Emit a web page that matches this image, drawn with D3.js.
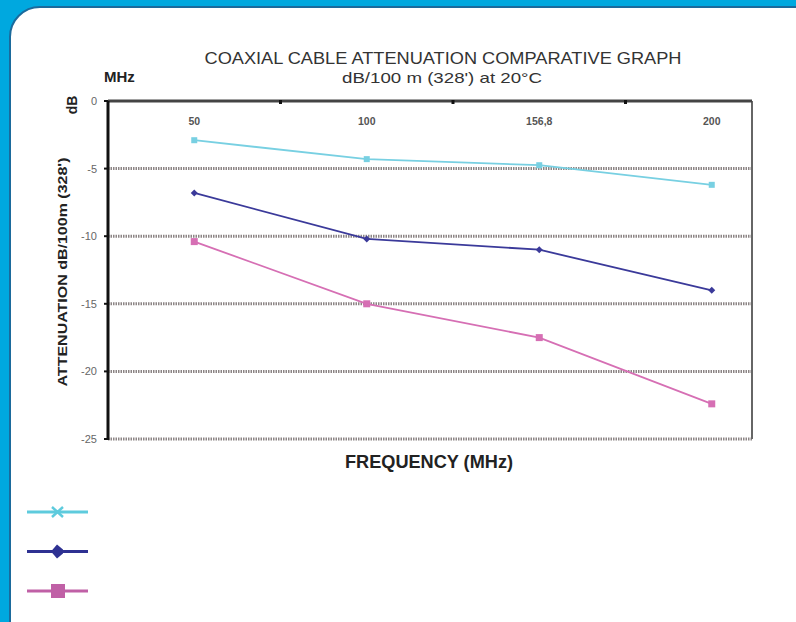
<!DOCTYPE html>
<html>
<head>
<meta charset="utf-8">
<script src="https://cdn.jsdelivr.net/npm/d3@7"></script>
<style>
  body { margin: 0; background: #00a8df; }
  svg { display: block; font-family: "Liberation Sans", Arial, sans-serif; }
</style>
</head>
<body>
<div id="chart"></div>
<script>
// Data
var categories = ["50", "100", "156,8", "200"];
var cyanValues = [-2.9, -4.3, -4.75, -6.2];
var navyValues = [-6.8, -10.2, -11.0, -14.0];
var magentaValues = [-10.4, -15.0, -17.5, -22.4];
var yTicks = [0, -5, -10, -15, -20, -25];

var series = [
  { name: "cyan", values: cyanValues, color: "#78d0e2", legendColor: "#5ecbdd", marker: "x" },
  { name: "navy", values: navyValues, color: "#3b3a9a", legendColor: "#2e3192", marker: "diamond" },
  { name: "magenta", values: magentaValues, color: "#d66fb4", legendColor: "#c060a6", marker: "square" }
];

var W = 796, H = 622;
var svg = d3.select("#chart").append("svg")
  .attr("width", W).attr("height", H);

// background panel
svg.append("rect").attr("width", W).attr("height", H).attr("fill", "#00a8df");
svg.append("rect")
  .attr("x", 10).attr("y", 7)
  .attr("width", 830).attr("height", 660)
  .attr("rx", 30).attr("ry", 30)
  .attr("fill", "#ffffff")
  .attr("stroke", "#1b6a9c").attr("stroke-width", 2);

// plot area
var plot = { left: 108, top: 101, right: 752, bottom: 439 };

var x = d3.scaleBand()
  .domain(categories)
  .range([plot.left, plot.left + 4 * 172.5]);

var y = d3.scaleLinear()
  .domain([0, -25])
  .range([plot.top, plot.bottom]);

// gridlines
svg.append("g").selectAll("line")
  .data(yTicks.filter(function(d){ return d !== 0; }))
  .enter().append("line")
  .attr("x1", plot.left).attr("x2", plot.right)
  .attr("y1", function(d){ return y(d); })
  .attr("y2", function(d){ return y(d); })
  .attr("stroke", "#8c8585")
  .attr("stroke-width", 3)
  .attr("stroke-dasharray", "1.5,1");

// right border
svg.append("line")
  .attr("x1", plot.right).attr("x2", plot.right)
  .attr("y1", plot.top).attr("y2", plot.bottom)
  .attr("stroke", "#666").attr("stroke-width", 2);

// top axis line
svg.append("line")
  .attr("x1", plot.left).attr("x2", plot.right)
  .attr("y1", plot.top).attr("y2", plot.top)
  .attr("stroke", "#444").attr("stroke-width", 3);

// top ticks between categories
svg.append("g").selectAll("line")
  .data(categories.slice(1))
  .enter().append("line")
  .attr("x1", function(d){ return x(d); })
  .attr("x2", function(d){ return x(d); })
  .attr("y1", plot.top - 1).attr("y2", plot.top + 3)
  .attr("stroke", "#111").attr("stroke-width", 3);

// left axis
svg.append("line")
  .attr("x1", plot.left).attr("x2", plot.left)
  .attr("y1", plot.top).attr("y2", plot.bottom + 1)
  .attr("stroke", "#111").attr("stroke-width", 3);

svg.append("g").selectAll("line")
  .data(yTicks)
  .enter().append("line")
  .attr("x1", plot.left - 4).attr("x2", plot.left)
  .attr("y1", function(d){ return y(d); })
  .attr("y2", function(d){ return y(d); })
  .attr("stroke", "#111").attr("stroke-width", 2);

// y tick labels
svg.append("g").selectAll("text")
  .data(yTicks)
  .enter().append("text")
  .attr("x", 97)
  .attr("y", function(d){ return y(d) + 4; })
  .attr("text-anchor", "end")
  .attr("font-size", 11)
  .attr("fill", "#666")
  .text(function(d){ return d; });

// category labels inside plot
svg.append("g").selectAll("text")
  .data(categories)
  .enter().append("text")
  .attr("x", function(d){ return x(d) + x.bandwidth() / 2; })
  .attr("y", 125)
  .attr("text-anchor", "middle")
  .attr("font-size", 10.5)
  .attr("font-weight", "bold")
  .attr("fill", "#555")
  .text(function(d){ return d; });

// lines and markers
var line = d3.line()
  .x(function(d, i){ return x(categories[i]) + x.bandwidth() / 2; })
  .y(function(d){ return y(d); });

series.forEach(function(s) {
  svg.append("path")
    .datum(s.values)
    .attr("d", line)
    .attr("fill", "none")
    .attr("stroke", s.color)
    .attr("stroke-width", 1.8);

  var pts = svg.append("g").selectAll("g")
    .data(s.values)
    .enter().append("g")
    .attr("transform", function(d, i){
      return "translate(" + (x(categories[i]) + x.bandwidth() / 2) + "," + y(d) + ")";
    });
  if (s.marker === "square") {
    pts.append("rect").attr("x", -3.5).attr("y", -3.5)
      .attr("width", 7).attr("height", 7).attr("fill", s.color);
  } else if (s.marker === "diamond") {
    pts.append("path").attr("d", "M0,-3.5L3.5,0L0,3.5L-3.5,0Z").attr("fill", s.color);
  } else {
    pts.append("rect").attr("x", -3).attr("y", -3)
      .attr("width", 6).attr("height", 6).attr("fill", s.color);
  }
});

// titles
svg.append("text")
  .attr("x", 443).attr("y", 64)
  .attr("text-anchor", "middle")
  .attr("font-size", 16)
  .attr("textLength", 477).attr("lengthAdjust", "spacingAndGlyphs")
  .attr("fill", "#333")
  .text("COAXIAL CABLE ATTENUATION COMPARATIVE GRAPH");
svg.append("text")
  .attr("x", 442).attr("y", 83)
  .attr("text-anchor", "middle")
  .attr("font-size", 14.5)
  .attr("textLength", 200).attr("lengthAdjust", "spacingAndGlyphs")
  .attr("fill", "#333")
  .text("dB/100 m (328') at 20°C");
svg.append("text")
  .attr("x", 104).attr("y", 82)
  .attr("font-size", 15).attr("font-weight", "bold")
  .attr("fill", "#222")
  .text("MHz");
svg.append("text")
  .attr("transform", "translate(77,105) rotate(-90)")
  .attr("text-anchor", "middle")
  .attr("font-size", 14).attr("font-weight", "bold")
  .attr("fill", "#222")
  .text("dB");
svg.append("text")
  .attr("transform", "translate(67,272) rotate(-90)")
  .attr("text-anchor", "middle")
  .attr("font-size", 13).attr("font-weight", "bold")
  .attr("textLength", 229).attr("lengthAdjust", "spacingAndGlyphs")
  .attr("fill", "#222")
  .text("ATTENUATION dB/100m (328')");
svg.append("text")
  .attr("x", 429).attr("y", 468)
  .attr("text-anchor", "middle")
  .attr("font-size", 18).attr("font-weight", "bold")
  .attr("textLength", 168).attr("lengthAdjust", "spacingAndGlyphs")
  .attr("fill", "#222")
  .text("FREQUENCY (MHz)");

// legend
var legendY = d3.scalePoint().domain(series.map(function(s){ return s.name; }))
  .range([512, 591]);
var leg = svg.append("g").selectAll("g")
  .data(series)
  .enter().append("g")
  .attr("transform", function(s){ return "translate(0," + legendY(s.name) + ")"; });
leg.append("line")
  .attr("x1", 27).attr("x2", 88)
  .attr("stroke", function(s){ return s.legendColor; })
  .attr("stroke-width", 3);
leg.each(function(s) {
  var g = d3.select(this);
  if (s.marker === "x") {
    g.append("path").attr("d", "M52,-5L63,5M52,5L63,-5")
      .attr("stroke", s.legendColor).attr("stroke-width", 2.5);
  } else if (s.marker === "diamond") {
    g.append("path").attr("d", "M51,0L57,-7L63,-2L63,2L57,7Z").attr("fill", s.legendColor);
  } else {
    g.append("rect").attr("x", 51).attr("y", -7).attr("width", 14).attr("height", 14)
      .attr("fill", s.legendColor);
  }
});
</script>
</body>
</html>
